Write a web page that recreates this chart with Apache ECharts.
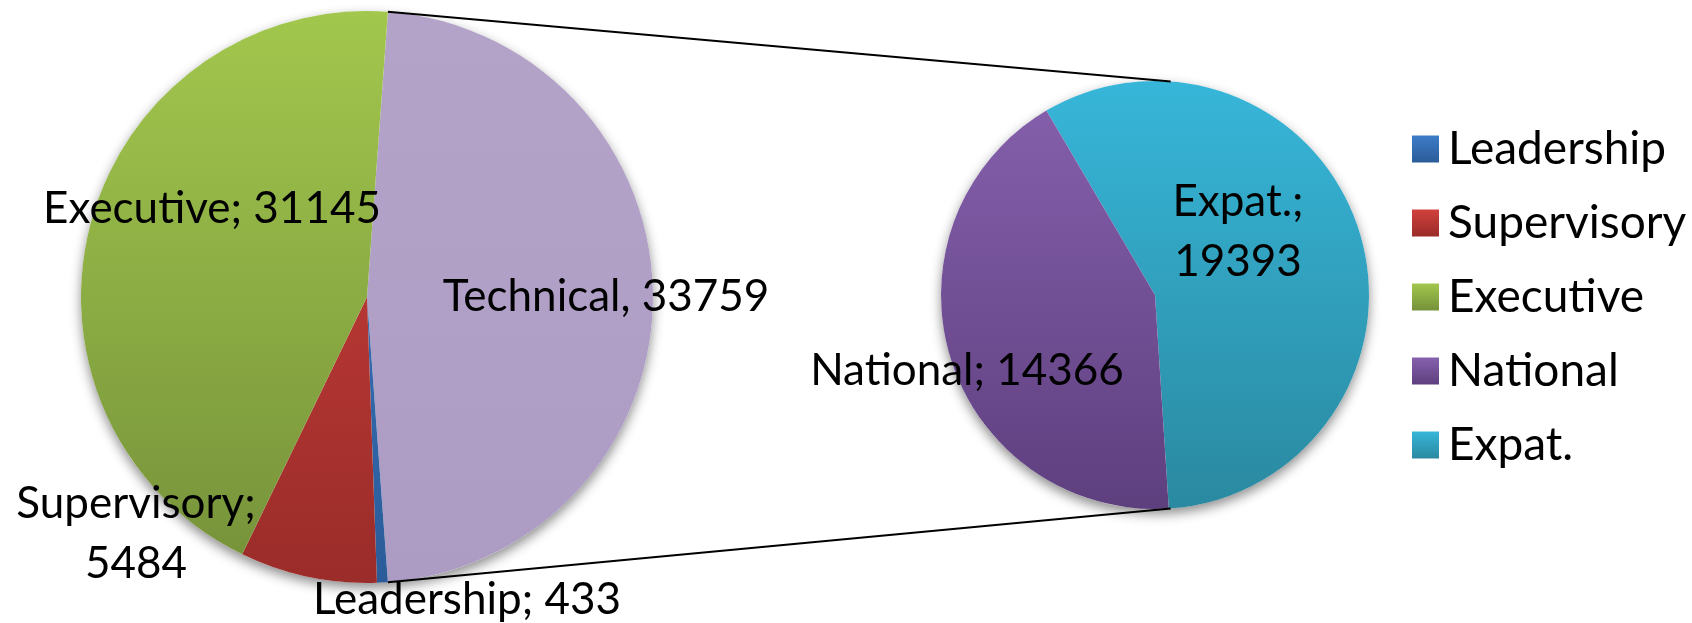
<!DOCTYPE html>
<html>
<head>
<meta charset="utf-8">
<script src="https://cdn.jsdelivr.net/npm/echarts@6/dist/echarts.min.js"></script>
<style>
  html, body { margin: 0; padding: 0; background: #fff; }
  #chart { width: 1692px; height: 623px; }
</style>
</head>
<body>
<div id="chart"></div>
<script>
// data
var mainNames = ['Technical', 'Leadership', 'Supervisory', 'Executive'];
var mainValues = [33759, 433, 5484, 31145];
var splitNames = ['Expat.', 'National'];
var splitValues = [19393, 14366];
var legendNames = ['Leadership', 'Supervisory', 'Executive', 'National', 'Expat.'];
var mainLabels = ['Technical, 33759', 'Leadership; 433', 'Supervisory;\n5484', 'Executive; 31145'];
var splitLabels = ['Expat.;\n19393', 'National; 14366'];

var colors = {
    'Leadership': ['#3D7CC9', '#2B5C99'],
    'Supervisory': ['#D1413D', '#9A2C29'],
    'Executive': ['#A2C74D', '#75913A'],
    'Technical': ['#B4A3C9', '#AC9CC3'],
    'National': ['#8661AE', '#5E3F7E'],
    'Expat.': ['#37B6D9', '#2A89A0']
};

// geometry
var leftC = [367, 297], leftR = 286;
var rightC = [1155, 295], rightR = 214;

// label spots (pixels)
var mainLabelPos = [[606, 297], [467, 600], [136, 534], [212, 209]];
var splitLabelPos = [[1238, 232], [967, 371]];

function grad(c, top, bottom, global) {
    return {
        type: 'linear', x: 0, y: top, x2: 0, y2: bottom, global: global,
        colorStops: [{ offset: 0, color: c[0] }, { offset: 1, color: c[1] }]
    };
}

var total = mainValues.reduce(function (a, b) { return a + b; }, 0);
var half = mainValues[0] / total * 180;   // technical slice centered on the right

var myChart = echarts.init(document.getElementById('chart'));

var labelBase = {
    show: true,
    color: '#000',
    fontFamily: 'Lato',
    fontSize: 44,
    lineHeight: 60
};

var mainData = mainNames.map(function (n, i) {
    return { name: n, value: mainValues[i], itemStyle: { color: grad(colors[n], leftC[1] - leftR, leftC[1] + leftR, true) } };
});
var splitData = splitNames.map(function (n, i) {
    return { name: n, value: splitValues[i], itemStyle: { color: grad(colors[n], rightC[1] - rightR, rightC[1] + rightR, true) } };
});

var a = half * Math.PI / 180;
var lines = [
    [leftC[0] + leftR * Math.cos(a), leftC[1] - leftR * Math.sin(a), rightC[0] + rightR * Math.cos(a), rightC[1] - rightR * Math.sin(a)],
    [leftC[0] + leftR * Math.cos(a), leftC[1] + leftR * Math.sin(a), rightC[0] + rightR * Math.cos(a), rightC[1] + rightR * Math.sin(a)]
];

option = {
    backgroundColor: '#fff',
    animation: false,
    legend: {
        orient: 'vertical',
        left: 1407,
        top: 121,
        itemWidth: 27,
        itemHeight: 27,
        itemGap: 28,
        icon: 'rect',
        textStyle: { fontFamily: 'Lato', fontSize: 46, lineHeight: 46, color: '#000', padding: [0, 0, 0, 4] },
        data: legendNames.map(function (n) {
            return { name: n, itemStyle: { color: grad(colors[n], 0, 1, false) } };
        })
    },
    graphic: lines.map(function (l) {
        return {
            type: 'line', z: 10,
            shape: { x1: l[0], y1: l[1], x2: l[2], y2: l[3] },
            style: { stroke: '#000', lineWidth: 2 }
        };
    }),
    series: [
        // soft shadow under each pie
        {
            type: 'pie', silent: true, z: 1, center: leftC, radius: leftR,
            label: { show: false }, labelLine: { show: false },
            itemStyle: { color: '#fff', shadowBlur: 12, shadowOffsetY: 5, shadowColor: 'rgba(0,0,0,0.45)' },
            data: [{ name: '_s1', value: 1 }]
        },
        {
            type: 'pie', silent: true, z: 1, center: rightC, radius: rightR,
            label: { show: false }, labelLine: { show: false },
            itemStyle: { color: '#fff', shadowBlur: 12, shadowOffsetY: 5, shadowColor: 'rgba(0,0,0,0.45)' },
            data: [{ name: '_s2', value: 1 }]
        },
        {
            name: 'main',
            type: 'pie',
            z: 2,
            center: leftC,
            radius: leftR,
            startAngle: half,
            clockwise: true,
            avoidLabelOverlap: false,
            itemStyle: { borderWidth: 0 },
            label: Object.assign({ formatter: function (p) { return mainLabels[p.dataIndex]; } }, labelBase),
            labelLine: { show: false },
            labelLayout: function (p) {
                var pos = mainLabelPos[p.dataIndex];
                return { x: pos[0], y: pos[1], align: 'center', verticalAlign: 'middle' };
            },
            emphasis: { disabled: true },
            data: mainData
        },
        {
            name: 'split',
            type: 'pie',
            z: 2,
            center: rightC,
            radius: rightR,
            startAngle: 120.5,
            clockwise: true,
            avoidLabelOverlap: false,
            itemStyle: { borderWidth: 0 },
            label: Object.assign({ formatter: function (p) { return splitLabels[p.dataIndex]; } }, labelBase),
            labelLine: { show: false },
            labelLayout: function (p) {
                var pos = splitLabelPos[p.dataIndex];
                return { x: pos[0], y: pos[1], align: 'center', verticalAlign: 'middle' };
            },
            emphasis: { disabled: true },
            data: splitData
        }
    ]
};

myChart.setOption(option);
</script>
</body>
</html>
